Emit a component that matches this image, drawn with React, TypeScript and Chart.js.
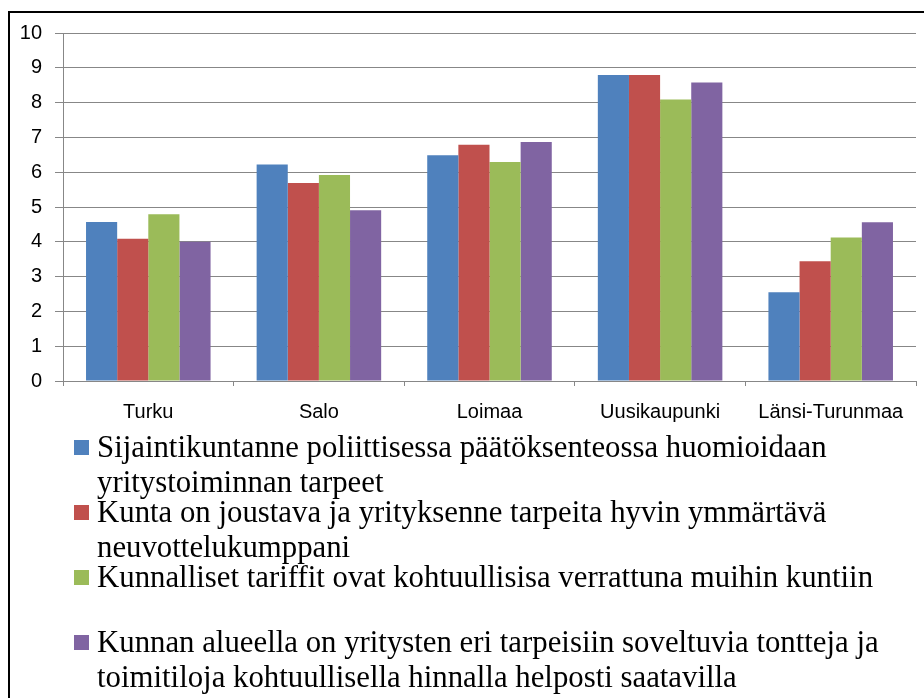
import React, { useEffect, useRef } from 'react';
import { Chart, registerables } from 'chart.js';

Chart.register(...registerables);

const categories = ['Turku', 'Salo', 'Loimaa', 'Uusikaupunki', 'Länsi-Turunmaa'];

const seriesNames = [
  'Sijaintikuntanne poliittisessa päätöksenteossa huomioidaan yritystoiminnan tarpeet',
  'Kunta on joustava ja yrityksenne tarpeita hyvin ymmärtävä neuvottelukumppani',
  'Kunnalliset tariffit ovat kohtuullisisa verrattuna muihin kuntiin',
  'Kunnan alueella on yritysten eri tarpeisiin soveltuvia tontteja ja toimitiloja kohtuullisella hinnalla helposti saatavilla',
];

const series1 = [4.57, 6.22, 6.49, 8.79, 2.55];
const series2 = [4.09, 5.69, 6.79, 8.79, 3.44];
const series3 = [4.79, 5.92, 6.29, 8.09, 4.12];
const series4 = [4.0, 4.91, 6.87, 8.58, 4.56];

const colors = ['#4F81BD', '#C0504D', '#9BBB59', '#8064A2'];
const yTicks = [0, 1, 2, 3, 4, 5, 6, 7, 8, 9, 10];

const GRID = '#878787';

export default function App() {
  const ref = useRef<HTMLCanvasElement>(null);

  useEffect(() => {
    const values = [series1, series2, series3, series4];
    const font = { family: '"Liberation Sans", Arial, sans-serif', size: 20 };
    const chart = new Chart(ref.current!, {
      type: 'bar',
      data: {
        labels: categories,
        datasets: values.map((v, i) => ({
          label: seriesNames[i],
          data: v,
          backgroundColor: colors[i],
          borderWidth: 0,
          categoryPercentage: 0.73,
          barPercentage: 1.0,
        })),
      },
      options: {
        responsive: false,
        animation: false,
        devicePixelRatio: 1,
        layout: { padding: { top: 20, right: 8, left: 0, bottom: 0 } },
        plugins: { legend: { display: false }, tooltip: { enabled: false } },
        scales: {
          x: {
            grid: { offset: true, drawOnChartArea: false, tickLength: 5, color: GRID },
            border: { color: GRID },
            ticks: { font, color: '#000', padding: 14, maxRotation: 0, autoSkip: false },
            afterFit: (s: any) => {
              s.height = 62;
            },
          },
          y: {
            min: yTicks[0],
            max: yTicks[yTicks.length - 1],
            ticks: { stepSize: 1, font, color: '#000', padding: 13 },
            grid: { color: GRID, tickLength: 8 },
            border: { color: GRID },
            afterFit: (s: any) => {
              s.width = 53;
              s.paddingTop = 0;
              s.paddingBottom = 0;
            },
          },
        },
      },
    });
    return () => chart.destroy();
  }, []);

  return (
    <div
      style={{
        position: 'fixed',
        left: 0,
        top: 0,
        width: 924,
        height: 698,
        overflow: 'hidden',
        background: '#fff',
      }}
    >
      <div
        style={{
          position: 'absolute',
          left: 8,
          top: 11,
          width: 1000,
          height: 800,
          borderLeft: '2px solid #000',
          borderTop: '2px solid #000',
        }}
      >
        <canvas
          ref={ref}
          width={914}
          height={430}
          style={{ position: 'absolute', left: 0, top: 0, width: 914, height: 430 }}
        />
      </div>
      {seriesNames.map((name, i) => (
        <div
          key={i}
          style={{
            position: 'absolute',
            left: 74,
            top: 430 + i * 65,
            height: 65,
            width: 830,
            display: 'flex',
            alignItems: 'flex-start',
          }}
        >
          <div
            style={{
              width: 15,
              height: 15,
              marginTop: 10,
              marginRight: 8,
              background: colors[i],
              flex: '0 0 auto',
            }}
          />
          <div
            style={{
              width: 800,
              fontFamily: '"Liberation Serif", "Times New Roman", serif',
              fontSize: 30.8,
              lineHeight: '35px',
              color: '#000',
            }}
          >
            {name}
          </div>
        </div>
      ))}
    </div>
  );
}
